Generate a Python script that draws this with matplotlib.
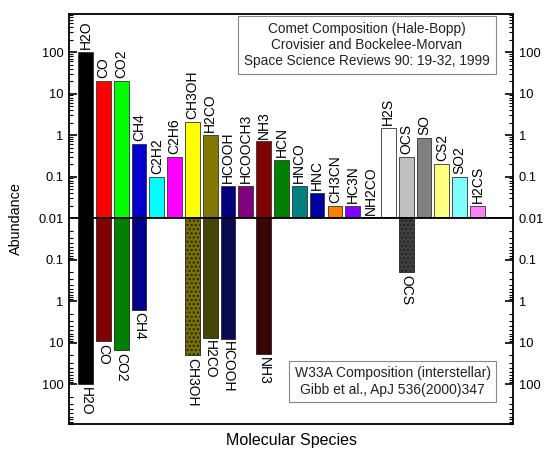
import matplotlib
matplotlib.use("Agg")
import matplotlib.pyplot as plt
from matplotlib.ticker import LogLocator, FixedLocator, FixedFormatter, NullFormatter
import numpy as np

plt.rcParams['font.family'] = ['Liberation Sans', 'DejaVu Sans']
plt.rcParams['hatch.color'] = 'black'

species = ["H2O", "CO", "CO2", "CH4", "C2H2", "C2H6", "CH3OH", "H2CO", "HCOOH",
           "HCOOCH3", "NH3", "HCN", "HNCO", "HNC", "CH3CN", "HC3N", "NH2CO",
           "H2S", "OCS", "SO", "CS2", "SO2", "H2CS"]
comet = [100, 20, 20, 0.62, 0.1, 0.3, 2.1, 1.0, 0.06,
         0.06, 0.7, 0.25, 0.06, 0.04, 0.02, 0.02, 0.01,
         1.5, 0.3, 0.85, 0.2, 0.1, 0.02]
comet_colors = ["#000000", "#ff0000", "#00ff00", "#0000cc", "#00ffff", "#ff00ff",
                "#ffff00", "#807800", "#000080", "#800080", "#800000", "#008000",
                "#008080", "#0000a0", "#ff8000", "#8000ff", "#ffffff",
                "#ffffff", "#c0c0c0", "#808080", "#ffff80", "#80ffff", "#ff80ff"]

w33a_species = ["H2O", "CO", "CO2", "CH4", "CH3OH", "H2CO", "HCOOH", "NH3", "OCS"]
w33a = [100, 9, 15, 1.6, 20, 7.5, 8, 19, 0.2]
w33a_colors = ["#000000", "#800000", "#008000", "#00008b", "#7a7000", "#45450a",
               "#0a0a50", "#3a0505", "#404040"]
w33a_hatch = ["", "", "", "", "....", "", "", "", "...."]

upper_ticks = [0.01, 0.1, 1, 10, 100]
upper_ticklabels = ["0.01", "0.1", "1", "10", "100"]
lower_ticks = [0.1, 1, 10, 100]
lower_ticklabels = ["0.1", "1", "10", "100"]

BASE = 0.01
x = np.arange(len(species))
pos = {s: i for i, s in enumerate(species)}
xw = [pos[s] for s in w33a_species]

fig = plt.figure(figsize=(5.45, 4.5), dpi=100)
L, R = 69/545, 513/545
top, mid, bot = 1 - 14/450, 1 - 218/450, 1 - 424/450
ax1 = fig.add_axes([L, mid, R - L, top - mid])
ax2 = fig.add_axes([L, bot, R - L, mid - bot])

bw = 0.83
ax1.bar(x, [v - BASE for v in comet], bottom=BASE, width=bw, color=comet_colors,
        edgecolor="#333333", linewidth=0.6)
ax1.set_yscale("log")
ax1.set_ylim(BASE, 830)

bars2 = ax2.bar(xw, [v - BASE for v in w33a], bottom=BASE, width=bw, color=w33a_colors,
                edgecolor="#222222", linewidth=0.6)
for b, h in zip(bars2, w33a_hatch):
    if h:
        b.set_hatch(h)
ax2.set_yscale("log")
ax2.set_ylim(900, BASE)

for ax in (ax1, ax2):
    ax.set_xlim(-0.93, 24.0)
    ax.set_xticks([])
    for sp in ax.spines.values():
        sp.set_linewidth(1.3)
    ax.tick_params(axis='y', which='both', direction='in', left=True, right=True,
                   labelleft=True, labelright=True, labelsize=9.3, pad=4)
    ax.tick_params(axis='y', which='major', length=6, width=1.2)
    ax.tick_params(axis='y', which='minor', length=3, width=0.8)
    ax.yaxis.set_minor_locator(LogLocator(base=10, subs=np.arange(2, 10)))
    ax.yaxis.set_minor_formatter(NullFormatter())

ax1.yaxis.set_major_locator(FixedLocator(upper_ticks))
ax1.yaxis.set_major_formatter(FixedFormatter(upper_ticklabels))
ax2.yaxis.set_major_locator(FixedLocator(lower_ticks))
ax2.yaxis.set_major_formatter(FixedFormatter(lower_ticklabels))

lfs = 10
for xi, s, v in zip(x, species, comet):
    ax1.annotate(s, (xi, v), xytext=(0, 2), textcoords="offset points",
                 rotation=90, ha="center", va="bottom", fontsize=lfs)
for xi, s, v in zip(xw, w33a_species, w33a):
    ax2.annotate(s, (xi, v), xytext=(0, -2), textcoords="offset points",
                 rotation=270, ha="center", va="top", fontsize=lfs)

ax1.text(0.671, 0.848, "Comet Composition (Hale-Bopp)\nCrovisier and Bockelee-Morvan\nSpace Science Reviews 90: 19-32, 1999",
         transform=ax1.transAxes, ha="center", va="center", fontsize=9.8,
         linespacing=1.2, color="#222222",
         bbox=dict(boxstyle="square,pad=0.45", fc="white", ec="#888888", lw=0.8))
ax2.text(0.729, 0.206, "W33A Composition (interstellar)\nGibb et al., ApJ 536(2000)347",
         transform=ax2.transAxes, ha="center", va="center", fontsize=10,
         linespacing=1.2, color="#222222",
         bbox=dict(boxstyle="square,pad=0.4", fc="white", ec="#888888", lw=0.8))

fig.text(0.03, (top + bot) / 2, "Abundance", rotation=90, ha="center", va="center",
         fontsize=10.4)
fig.text((L + R) / 2, 0.022, "Molecular Species", ha="center", va="center", fontsize=11.5)

fig.savefig("out.png", dpi=100)
